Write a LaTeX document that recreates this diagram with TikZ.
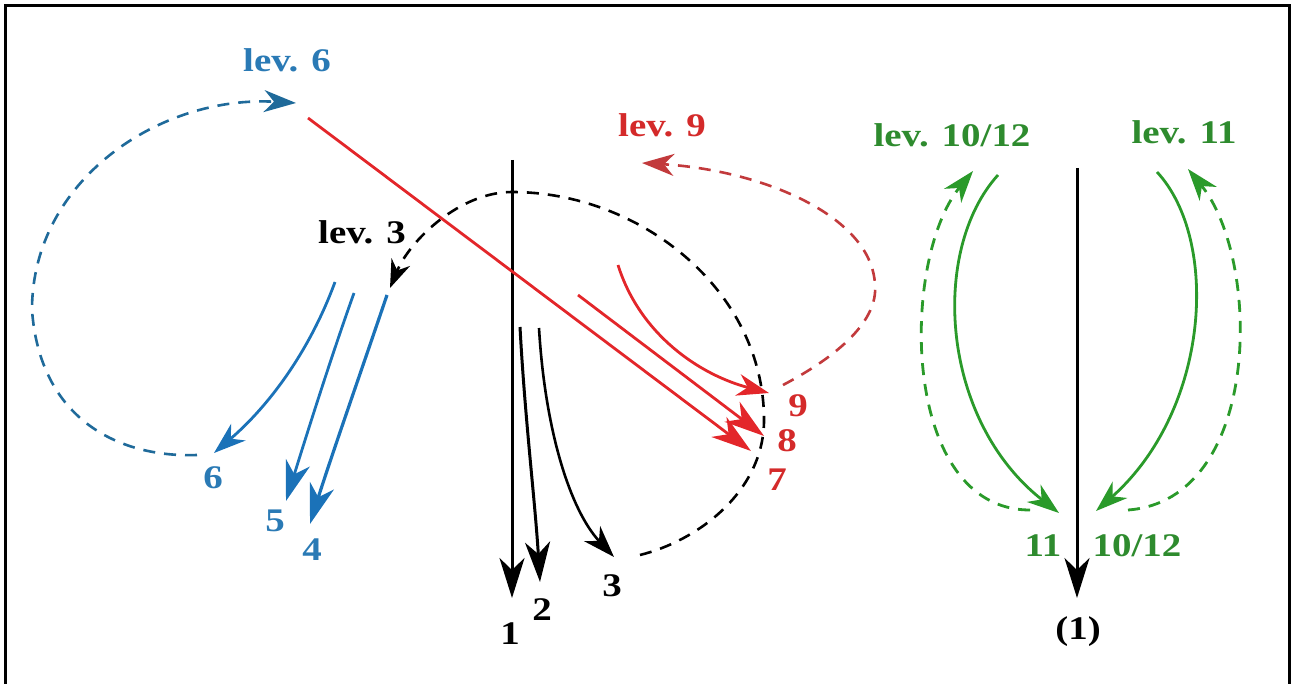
\documentclass[tikz,border=0pt]{standalone}
\usepackage{fontspec}
\setmainfont{Liberation Serif}[FakeStretch=1.18]
\usetikzlibrary{arrows.meta}
\definecolor{cblue}{HTML}{1B72B8}
\definecolor{cbluedash}{HTML}{1F6A9A}
\definecolor{cbluelab}{HTML}{2A7AB5}
\definecolor{cred}{HTML}{E3262A}
\definecolor{creddash}{HTML}{C23A3C}
\definecolor{credlab}{HTML}{D42A2A}
\definecolor{cgreen}{HTML}{2A9A2A}
\definecolor{cgreenlab}{HTML}{2E8B2E}
\begin{document}
\begin{tikzpicture}[x=1pt,y=-1pt,
  lab/.style={font=\bfseries\fontsize{33}{36}\selectfont, inner sep=0pt, anchor=center},
  tipbig/.style={-{Stealth[length=40pt,width=25pt,inset=12pt]}},
  tipmid/.style={-{Stealth[length=32pt,width=22pt,inset=10pt]}},
  tipsm/.style={-{Stealth[length=28pt,width=20pt,inset=9pt]}},
  dsh/.style={dash pattern=on 12pt off 9pt},
  blk/.style={draw=black, line width=3pt},
  blu/.style={draw=cblue, line width=2.8pt},
  rd/.style={draw=cred, line width=2.8pt},
  grn/.style={draw=cgreen, line width=2.8pt}]
\useasboundingbox (0,0) rectangle (1292,684);
% frame
\coordinate (f1) at (5,684);
\coordinate (f2) at (5,6);
\coordinate (f3) at (1289,6);
\coordinate (f4) at (1289,684);
\draw[line width=3pt] (f1) -- (f2) -- (f3) -- (f4);

% labels
\node[lab, text=cbluelab] (l6) at (287,60) {lev. 6};
\node[lab] (l3) at (362,232) {lev. 3};
\node[lab, text=credlab] (l9) at (662,125) {lev. 9};
\node[lab, text=cgreenlab] (l1012) at (952,135) {lev. 10/12};
\node[lab, text=cgreenlab] (l11) at (1184,132) {lev. 11};
\node[lab, text=cbluelab] (n6) at (213,478) {6};
\node[lab, text=cbluelab] (n5) at (275,521) {5};
\node[lab, text=cbluelab] (n4) at (312,550) {4};
\node[lab] (n1) at (510,634) {1};
\node[lab] (n2) at (542,610) {2};
\node[lab] (n3) at (612,586) {3};
\node[lab, text=credlab] (n9) at (798,406) {9};
\node[lab, text=credlab] (n8) at (787,441) {8};
\node[lab, text=credlab] (n7) at (777,480) {7};
\node[lab, text=cgreenlab] (n11) at (1043,546) {11};
\node[lab, text=cgreenlab] (n1012) at (1137,546) {10/12};
\node[lab] (np1) at (1078,632) {(1)};

% coordinates
\coordinate (b1s) at (512,160); \coordinate (b1e) at (512,598);
\coordinate (b2s) at (520,327); \coordinate (b2e) at (540,582);
\coordinate (b3s) at (539,328); \coordinate (b3e) at (614,557);
\coordinate (d3s) at (640,555); \coordinate (d3a) at (764,420);
\coordinate (d3b) at (512,192); \coordinate (d3e) at (390,288);
\coordinate (u6s) at (335,282); \coordinate (u6e) at (214,453);
\coordinate (u5s) at (354,293); \coordinate (u5e) at (286,501);
\coordinate (u4s) at (387,295); \coordinate (u4e) at (310,524);
\coordinate (uds) at (197,455); \coordinate (uda) at (32,310); \coordinate (ude) at (296,103);
\coordinate (r7s) at (308,118); \coordinate (r7e) at (751,451);
\coordinate (r8s) at (578,295); \coordinate (r8e) at (764,436);
\coordinate (r9s) at (618,265); \coordinate (r9e) at (769,393);
\coordinate (rds) at (783,385); \coordinate (rda) at (875,285); \coordinate (rde) at (642,163);
\coordinate (k1s) at (1077,168); \coordinate (k1e) at (1077,598);
\coordinate (gls) at (998,175); \coordinate (gle) at (1059,513);
\coordinate (glds) at (1030,510); \coordinate (glde) at (973,171);
\coordinate (grs) at (1157,172); \coordinate (gre) at (1096,511);
\coordinate (grds) at (1128,510); \coordinate (grde) at (1188,169);

% black
\draw[blk, tipbig] (b1s) -- (b1e);
\draw[blk, tipbig] (b2s) .. controls (525,420) and (535,500) .. (b2e);
\draw[blk, line width=2.6pt, tipmid] (b3s) .. controls (545,430) and (570,510) .. (b3e);
\draw[blk, line width=2.6pt, dsh, tipsm] (d3s) .. controls (700,540) and (764,490) .. (d3a)
   .. controls (764,290) and (640,192) .. (d3b)
   .. controls (460,192) and (410,240) .. (d3e);

% blue
\draw[blu, tipmid] (u6s) .. controls (310,350) and (270,405) .. (u6e);
\draw[blu, tipbig] (u5s) .. controls (330,360) and (305,440) .. (u5e);
\draw[blu, line width=3.2pt, tipbig] (u4s) .. controls (365,360) and (330,460) .. (u4e);
\draw[draw=cbluedash, line width=2.6pt, dsh, tipmid] (uds) .. controls (120,458) and (40,420) .. (uda)
   .. controls (32,180) and (160,95) .. (ude);

% red
\draw[rd, tipbig] (r7s) -- (r7e);
\draw[rd, tipbig] (r8s) -- (r8e);
\draw[rd, tipmid] (r9s) .. controls (640,335) and (700,375) .. (r9e);
\draw[draw=creddash, line width=2.6pt, dsh, tipmid] (rds) .. controls (840,355) and (878,320) .. (rda)
   .. controls (872,215) and (760,170) .. (rde);

% right part
\draw[blk, tipbig] (k1s) -- (k1e);
\draw[grn, tipmid] (gls) .. controls (930,250) and (940,420) .. (gle);
\draw[grn, dsh, tipmid] (glds) .. controls (900,510) and (900,260) .. (glde);
\draw[grn, tipmid] (grs) .. controls (1220,240) and (1210,410) .. (gre);
\draw[grn, dsh, tipmid] (grds) .. controls (1262,500) and (1262,260) .. (grde);
\end{tikzpicture}
\end{document}
